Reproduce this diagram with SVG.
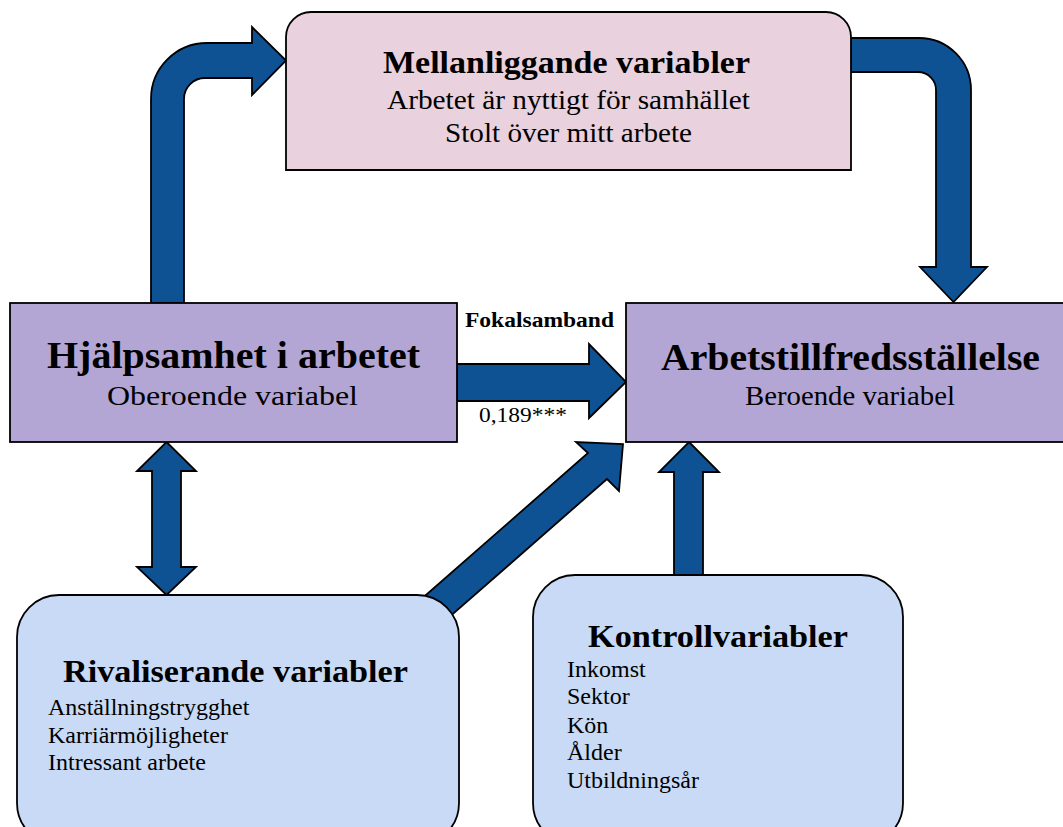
<svg xmlns="http://www.w3.org/2000/svg" width="1063" height="827" viewBox="0 0 1063 827">
<style>
text{font-family:"Liberation Serif","Times New Roman",serif;fill:#000}
.b{font-weight:bold}
.c{text-anchor:middle}
.arr{fill:#0E5294;stroke:#000;stroke-width:1.8;stroke-linejoin:miter}
.box{stroke:#000;stroke-width:1.8}
.pur{fill:#B3A6D5}
.pink{fill:#E9D1DD}
.lb{fill:#C8DAF5}
</style>
<rect width="1063" height="827" fill="#fff"/>
<g id="connectors">
<path class="arr" d="M151 303 L151 99 A56 56 0 0 1 207 43 L252 43 L252 27 L286 60.5 L252 95 L252 78 L205 78 A21 21 0 0 0 184 99 L184 303 Z"/>
<path class="arr" d="M851 38 L919 38 A52 52 0 0 1 971 90 L971 267 L987 267 L953.5 302 L920 267 L936 267 L936 90 A18 18 0 0 0 918 72 L851 72 Z"/>
<path class="arr" d="M457 364 L589 364 L589 344 L626 382 L589 418 L589 401 L457 401 Z"/>
<path class="arr" d="M166.5 442 L196 471 L181 471 L181 567 L196 567 L166.5 595 L137 567 L152 567 L152 471 L137 471 Z"/>
<path class="arr" d="M410 609 L588 453 L576 442 L623 444 L619 491 L607 479 L438 627 Z"/>
<path class="arr" d="M689 442 L719 472 L703 472 L703 585 L674 585 L674 472 L659 472 Z"/>
<text class="b c" x="539.5" y="327" font-size="21" textLength="149" lengthAdjust="spacingAndGlyphs">Fokalsamband</text>
<text class="c" x="523" y="422" font-size="22" textLength="88" lengthAdjust="spacingAndGlyphs">0,189***</text>
</g>
<g id="mellanliggande">
<path class="box pink" d="M286 170 L286 37 A25 25 0 0 1 311 12 L826 12 A25 25 0 0 1 851 37 L851 170 Z"/>
<text class="b c" x="566.5" y="73" font-size="32" textLength="367" lengthAdjust="spacingAndGlyphs">Mellanliggande variabler</text>
<text class="c" x="568.5" y="109" font-size="27" textLength="363" lengthAdjust="spacingAndGlyphs">Arbetet är nyttigt för samhället</text>
<text class="c" x="568.5" y="142" font-size="27" textLength="247" lengthAdjust="spacingAndGlyphs">Stolt över mitt arbete</text>
</g>
<g id="hjalpsamhet">
<rect class="box pur" x="10" y="303" width="447" height="139"/>
<text class="b c" x="233.5" y="368" font-size="38" textLength="373" lengthAdjust="spacingAndGlyphs">Hjälpsamhet i arbetet</text>
<text class="c" x="232.5" y="405" font-size="27" textLength="251" lengthAdjust="spacingAndGlyphs">Oberoende variabel</text>
</g>
<g id="arbetstillfredsstallelse">
<rect class="box pur" x="626" y="303" width="460" height="139"/>
<text class="b c" x="850.5" y="370" font-size="38" textLength="379" lengthAdjust="spacingAndGlyphs">Arbetstillfredsställelse</text>
<text class="c" x="850" y="405" font-size="27" textLength="210" lengthAdjust="spacingAndGlyphs">Beroende variabel</text>
</g>
<g id="rivaliserande">
<rect class="box lb" x="17" y="595" width="442" height="250" rx="42" ry="42"/>
<text class="b c" x="235.5" y="682" font-size="32" textLength="345" lengthAdjust="spacingAndGlyphs">Rivaliserande variabler</text>
<text x="48" y="715" font-size="24">Anställningstrygghet</text>
<text x="48" y="743" font-size="24">Karriärmöjligheter</text>
<text x="48" y="770" font-size="24">Intressant arbete</text>
</g>
<g id="kontroll">
<rect class="box lb" x="533" y="575" width="370" height="270" rx="42" ry="42"/>
<text class="b c" x="718" y="647" font-size="32" textLength="260" lengthAdjust="spacingAndGlyphs">Kontrollvariabler</text>
<text x="567" y="677" font-size="24">Inkomst</text>
<text x="567" y="704" font-size="24">Sektor</text>
<text x="567" y="733" font-size="24">Kön</text>
<text x="567" y="760" font-size="24">Ålder</text>
<text x="567" y="788" font-size="24">Utbildningsår</text>
</g>
</svg>
